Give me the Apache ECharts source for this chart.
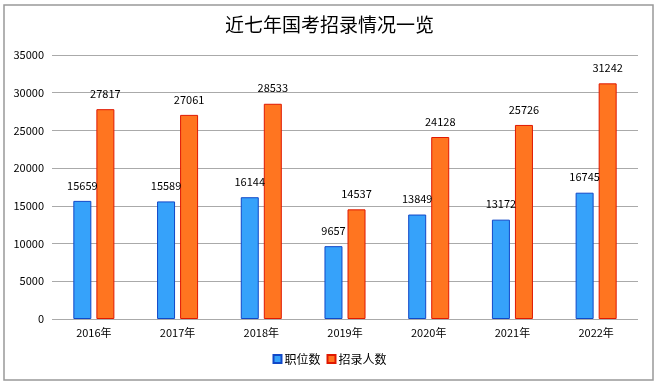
<!DOCTYPE html>
<html><head><meta charset="utf-8">
<script src="https://cdn.jsdelivr.net/npm/echarts@6/dist/echarts.min.js"></script>
<style>html,body{margin:0;padding:0;background:#fff}#c{width:659px;height:385px}</style>
</head><body><div id="c"></div>
<script>
var categories = ['2016年','2017年','2018年','2019年','2020年','2021年','2022年'];
var positions = [15659,15589,16144,9657,13849,13172,16745];
var recruits = [27817,27061,28533,14537,24128,25726,31242];
var seriesNames = ['职位数','招录人数'];
var titleText = '近七年国考招录情况一览';

var font = '"Noto Sans CJK SC", "Noto Sans", sans-serif';
var chart = echarts.init(document.getElementById('c'));
chart.setOption({
  animation: false,
  title: {text: titleText, left: 'center', top: 10, textStyle: {fontFamily: font, fontSize: 19, fontWeight: 'normal', color: '#000'}},
  graphic: [{type: 'rect', shape: {x: 4, y: 5, width: 649, height: 375}, style: {fill: 'none', stroke: '#999', lineWidth: 1.5}, silent: true}],
  legend: {bottom: 15, left: 'center', itemWidth: 8, itemHeight: 8, itemGap: 6, icon: 'rect',
    textStyle: {fontFamily: font, fontSize: 12, color: '#000', padding: [0,0,0,-2]}},
  grid: {left: 52, right: 21, top: 55, bottom: 66},
  xAxis: {type: 'category', data: categories,
    axisLine: {show: false}, axisTick: {show: false},
    axisLabel: {fontFamily: font, fontSize: 11, color: '#000', margin: 8}},
  yAxis: {type: 'value', min: 0, max: 35000, interval: 5000,
    axisLine: {show: false}, axisTick: {show: false},
    axisLabel: {fontFamily: font, fontSize: 11, color: '#000', margin: 8, formatter: function(v){return String(v);}},
    splitLine: {lineStyle: {color: '#aaa', width: 1}}},
  series: [
    {name: seriesNames[0], type: 'bar', data: positions, barWidth: 18, barGap: '28%',
      itemStyle: {color: '#36a2fa', borderColor: '#1048c8', borderWidth: 1},
      label: {show: true, position: 'top', distance: 10, fontFamily: font, fontSize: 11, color: '#000'}},
    {name: seriesNames[1], type: 'bar', data: recruits, barWidth: 18,
      itemStyle: {color: '#ff7520', borderColor: '#e01800', borderWidth: 1},
      label: {show: true, position: 'top', distance: 10, fontFamily: font, fontSize: 11, color: '#000'}}
  ]
});
</script></body></html>
